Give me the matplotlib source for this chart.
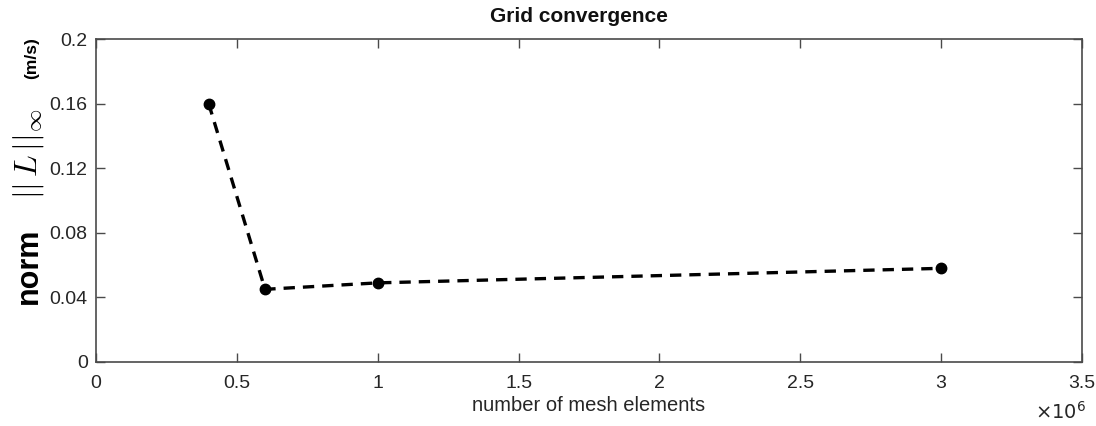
import matplotlib
matplotlib.use("Agg")
import matplotlib.pyplot as plt
from matplotlib.ticker import FuncFormatter

# Grid-convergence study: max-norm velocity error vs. mesh size
mesh_elements = [0.4e6, 0.6e6, 1.0e6, 3.0e6]
error_norm = [0.160, 0.045, 0.049, 0.058]

x_ticks = [0, 0.5e6, 1.0e6, 1.5e6, 2.0e6, 2.5e6, 3.0e6, 3.5e6]
y_ticks = [0, 0.04, 0.08, 0.12, 0.16, 0.2]

plt.rcParams["font.family"] = ["Liberation Sans", "DejaVu Sans"]
plt.rcParams["mathtext.fontset"] = "cm"

W, H = 1096, 426
fig = plt.figure(figsize=(W / 100, H / 100), dpi=100)
ax = fig.add_axes([96 / W, 1 - 362 / H, (1082 - 96) / W, (362 - 39) / H])

ax.plot(mesh_elements, error_norm, linestyle="--", color="black", linewidth=2.4,
        dashes=(3.4, 2.4), marker="o", markersize=7.5, markerfacecolor="black",
        markeredgecolor="black")

ax.set_xlim(0, 3.5e6)
ax.set_ylim(0, 0.2)
ax.set_xticks(x_ticks)
ax.set_yticks(y_ticks)
ax.xaxis.set_major_formatter(FuncFormatter(lambda v, p: f"{v / 1e6:g}"))
ax.yaxis.set_major_formatter(FuncFormatter(lambda v, p: f"{v:g}"))

axis_color = "#4a4a4a"
for s in ax.spines.values():
    s.set_color(axis_color)
    s.set_linewidth(1.2)
ax.tick_params(direction="in", top=True, right=True, length=6.5, width=1.0,
               color=axis_color, labelsize=14, labelcolor="#262626")
ax.tick_params(axis="x", pad=9)
ax.tick_params(axis="y", pad=6)

ax.set_xlabel("number of mesh elements", fontsize=14.5, color="#262626", labelpad=3)
ax.set_title("Grid convergence", fontsize=15, fontweight="bold", color="#111111",
             pad=12, x=0.49)

# Exponent of the x axis
fig.text(1061 / W, 1 - 412 / H, r"$\times10^{6}$", fontsize=14, color="#262626",
         ha="center", va="center", family="DejaVu Sans",
         math_fontfamily="dejavusans")

# Composite y label: "norm  ||L||_inf  (m/s)"
base_x = 37 / W
fig.text(base_x, 1 - 266 / H, "norm", rotation=90, rotation_mode="anchor",
         ha="center", va="baseline", fontsize=22, fontweight="bold",
         color="black")
fig.text(base_x, 1 - 153 / H, r"$||\,L\,||_{\infty}$", rotation=90,
         rotation_mode="anchor", ha="center", va="baseline", fontsize=23,
         color="black")
fig.text(base_x - 1 / W, 1 - 58 / H, "(m/s)", rotation=90, rotation_mode="anchor",
         ha="center", va="baseline", fontsize=12.5, fontweight="bold",
         color="black")

fig.savefig("out.png", dpi=100, facecolor="white")
